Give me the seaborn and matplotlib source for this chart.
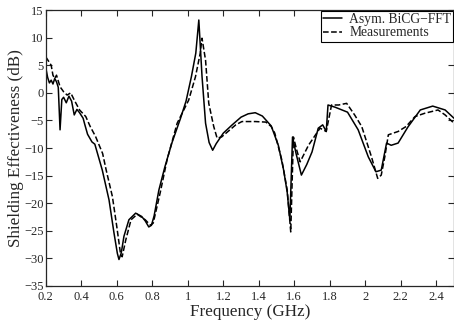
import numpy as np
import pandas as pd
import matplotlib
matplotlib.use("Agg")
import matplotlib.pyplot as plt
import seaborn as sns
from matplotlib.ticker import FuncFormatter

# simulated curve (Asym. BiCG-FFT)
sim_freq = [0.200, 0.210, 0.220, 0.230, 0.240, 0.250, 0.260, 0.270, 0.280, 0.290,
            0.300, 0.315, 0.330, 0.345, 0.360, 0.375, 0.390, 0.410, 0.420, 0.435,
            0.460, 0.476, 0.518, 0.556, 0.584, 0.603, 0.612, 0.625, 0.640, 0.668,
            0.706, 0.740, 0.760, 0.780, 0.795, 0.810, 0.837, 0.870, 0.910, 0.959,
            0.990, 1.020, 1.045, 1.062, 1.080, 1.100, 1.120, 1.140, 1.160, 1.200,
            1.250, 1.300, 1.340, 1.380, 1.420, 1.470, 1.510, 1.540, 1.560, 1.575,
            1.590, 1.610, 1.640, 1.670, 1.700, 1.735, 1.760, 1.780, 1.790, 1.830,
            1.900, 1.960, 2.017, 2.060, 2.090, 2.120, 2.146, 2.185, 2.240, 2.310,
            2.380, 2.450, 2.500]
sim_se = [4.5, 2.8, 1.8, 2.3, 1.6, 2.6, 2.0, 1.0, -6.7, -1.2,
          -0.8, -1.8, -0.6, -1.5, -4.0, -3.0, -3.6, -4.6, -5.8, -7.5,
          -8.9, -9.3, -14.0, -19.4, -25.4, -29.1, -30.2, -29.0, -26.0, -23.0,
          -21.8, -22.4, -23.2, -24.3, -24.0, -22.3, -17.6, -13.5, -9.1, -4.6,
          -1.5, 2.9, 7.2, 13.2, 3.0, -5.5, -9.0, -10.4, -9.2, -7.3,
          -5.8, -4.4, -3.8, -3.6, -4.2, -6.0, -9.5, -14.0, -18.0, -23.0,
          -8.0, -11.0, -14.9, -13.0, -10.7, -6.4, -5.8, -7.0, -2.2, -2.6,
          -3.5, -6.7, -11.6, -14.3, -14.0, -9.1, -9.5, -9.1, -6.2, -3.1,
          -2.4, -3.1, -4.6]

# measured curve
meas_freq = [0.200, 0.230, 0.240, 0.250, 0.260, 0.280, 0.300, 0.320, 0.340, 0.360,
             0.390, 0.425, 0.450, 0.480, 0.520, 0.540, 0.575, 0.600, 0.620, 0.630,
             0.650, 0.680, 0.715, 0.760, 0.790, 0.805, 0.845, 0.884, 0.940, 1.005,
             1.043, 1.070, 1.080, 1.100, 1.118, 1.146, 1.165, 1.190, 1.270, 1.305,
             1.380, 1.440, 1.470, 1.490, 1.530, 1.560, 1.580, 1.595, 1.614, 1.633,
             1.680, 1.745, 1.780, 1.810, 1.850, 1.895, 1.940, 1.980, 2.035, 2.070,
             2.090, 2.110, 2.130, 2.185, 2.230, 2.280, 2.335, 2.410, 2.450, 2.500]
meas_se = [6.5, 5.0, 3.2, 2.6, 3.2, 1.1, 0.2, -0.4, 0.0, -1.3,
           -3.1, -4.3, -6.1, -7.9, -11.0, -14.0, -18.8, -24.3, -29.0, -29.7,
           -26.7, -23.0, -22.0, -23.0, -24.0, -23.6, -18.0, -12.0, -5.5, -1.3,
           2.9, 7.2, 9.9, 5.9, -1.9, -6.1, -8.2, -8.0, -5.8, -5.2,
           -5.2, -5.3, -6.1, -7.3, -12.2, -17.6, -25.2, -8.0, -10.4, -12.5,
           -9.5, -6.4, -7.0, -2.2, -2.2, -1.9, -4.0, -6.1, -11.6, -15.5,
           -14.9, -11.6, -7.6, -7.0, -6.1, -4.3, -3.7, -3.1, -4.0, -5.5]

sns.set_style("ticks")
plt.rcParams['font.family'] = ['Liberation Serif', 'DejaVu Serif']

fig = plt.figure(figsize=(4.54, 3.25), dpi=100)
ax = fig.add_axes([0.101, 0.12, 0.899, 0.849])

sns.lineplot(x=sim_freq, y=sim_se, color='black', linewidth=1.1,
             label='Asym. BiCG\u2212FFT', ax=ax)
sns.lineplot(x=meas_freq, y=meas_se, color='black', linewidth=1.1,
             linestyle='--', dashes=(3.5, 2.5), label='Measurements', ax=ax)

ax.set_xlim(0.2, 2.5)
ax.set_ylim(-35, 15)
ax.set_xticks(np.arange(0.2, 2.41, 0.2))
ax.set_yticks(np.arange(-35, 16, 5))
ax.xaxis.set_major_formatter(FuncFormatter(lambda v, p: f"{v:g}"))
ax.yaxis.set_major_formatter(FuncFormatter(lambda v, p: f"{v:g}".replace('-', '\u2212')))
ax.tick_params(direction='in', top=True, right=True, length=4, width=0.8,
               labelsize=9, pad=1.5)
ax.tick_params(axis='x', pad=3.5)
for s in ax.spines.values():
    s.set_linewidth(0.9)
    s.set_visible(True)

ax.set_xlabel("Frequency (GHz)", fontsize=12.3, labelpad=0.5)
ax.set_ylabel("Shielding Effectiveness (dB)", fontsize=12.3, labelpad=0)

leg = ax.legend(loc='upper right', fontsize=9.8, frameon=True, fancybox=False,
                edgecolor='black', framealpha=1, borderpad=0.15, labelspacing=0.05,
                handlelength=1.4, handletextpad=0.5, borderaxespad=0.05)
leg.get_frame().set_linewidth(0.8)

fig.savefig("out.png", dpi=100)
